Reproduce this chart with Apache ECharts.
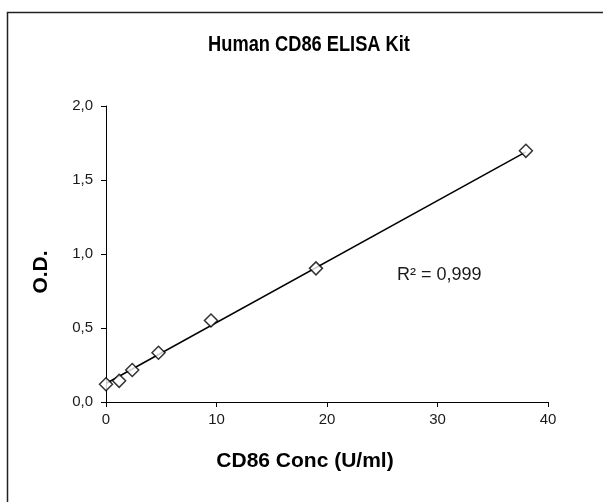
<!DOCTYPE html>
<html>
<head>
<meta charset="utf-8">
<script src="https://cdn.jsdelivr.net/npm/echarts@6/dist/echarts.min.js"></script>
<style>
  html, body { margin: 0; padding: 0; background: #fff; }
  #chart { width: 603px; height: 502px; }
</style>
</head>
<body>
<div id="chart"></div>
<script>
// standard concentrations (U/ml) and measured optical density
const conc = [0, 1.19, 2.375, 4.75, 9.5, 19, 38];
const od = [0.12, 0.143, 0.216, 0.333, 0.551, 0.903, 1.697];
// linear trendline ends
const trendX = [0, 38];
const trendY = [0.125, 1.69];
const xTicks = [0, 10, 20, 30, 40];
const yTicks = [0, 0.5, 1.0, 1.5, 2.0];

const chart = echarts.init(document.getElementById('chart'));
const font = 'Liberation Sans, Arial, sans-serif';

const option = {
    animation: false,
    backgroundColor: '#fff',
    grid: { left: 106, right: 55, top: 106, bottom: 100 },
    xAxis: {
        type: 'value',
        min: xTicks[0],
        max: xTicks[xTicks.length - 1],
        interval: 10,
        axisLine: { lineStyle: { color: '#000', width: 1 } },
        axisTick: { show: true, length: 5, lineStyle: { color: '#000' } },
        axisLabel: { color: '#1a1a1a', fontSize: 15, fontFamily: font, margin: 10 },
        splitLine: { show: false }
    },
    yAxis: {
        type: 'value',
        min: yTicks[0],
        max: yTicks[yTicks.length - 1],
        interval: 0.5,
        axisLine: { show: true, lineStyle: { color: '#000', width: 1 } },
        axisTick: { show: true, length: 5, lineStyle: { color: '#000' } },
        axisLabel: {
            color: '#1a1a1a', fontSize: 15, fontFamily: font, margin: 13,
            formatter: v => v.toFixed(1).replace('.', ',')
        },
        splitLine: { show: false }
    },
    series: [
        {
            type: 'line',
            data: trendX.map((x, i) => [x, trendY[i]]),
            symbol: 'none',
            lineStyle: { color: '#000', width: 1.5 },
            z: 2
        },
        {
            type: 'scatter',
            data: conc.map((x, i) => [x, od[i]]),
            symbol: 'diamond',
            symbolSize: [13, 13],
            itemStyle: { color: '#fff', borderColor: '#000', borderWidth: 1.5 },
            z: 3
        }
    ],
    graphic: [
        {
            type: 'rect',
            shape: { x: 7.5, y: 12.5, width: 620, height: 520 },
            style: { fill: 'none', stroke: '#222', lineWidth: 1.5 },
            silent: true
        },
        {
            // title is a bit narrow in the original
            type: 'text', x: 309, y: 45, scaleX: 0.83,
            style: { text: 'Human CD86 ELISA Kit', font: 'bold 22px ' + font, fill: '#000',
                     textAlign: 'center', textVerticalAlign: 'middle' }
        },
        {
            type: 'text', x: 305, y: 461,
            style: { text: 'CD86 Conc (U/ml)', font: 'bold 21px ' + font, fill: '#000',
                     textAlign: 'center', textVerticalAlign: 'middle' }
        },
        {
            type: 'text', x: 41, y: 272, rotation: Math.PI / 2,
            style: { text: 'O.D.', font: 'bold 21px ' + font, fill: '#000',
                     textAlign: 'center', textVerticalAlign: 'middle' }
        },
        {
            type: 'text', x: 397, y: 275,
            style: { text: 'R² = 0,999', font: '18px ' + font, fill: '#1a1a1a',
                     textAlign: 'left', textVerticalAlign: 'middle' }
        }
    ]
};
chart.setOption(option);
</script>
</body>
</html>
